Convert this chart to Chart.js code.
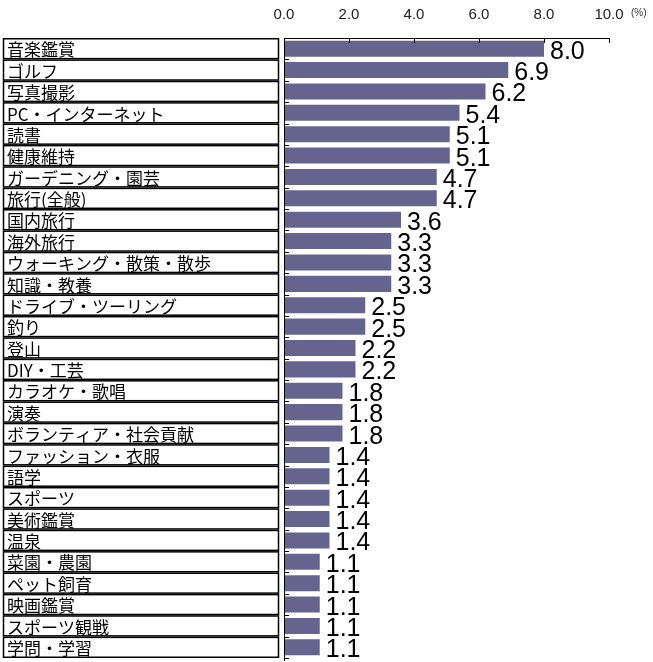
<!DOCTYPE html>
<html lang="ja">
<head>
<meta charset="utf-8">
<title>趣味の割合</title>
<script src="https://cdn.jsdelivr.net/npm/chart.js@4.4.1/dist/chart.umd.min.js"></script>
<style>
    html, body { margin: 0; padding: 0; background: #fff; }
    canvas { display: block; }
</style>
</head>
<body>
<canvas id="hobby-chart" width="653" height="662"></canvas>
<script>
// Data
const categories = [
    '音楽鑑賞', 'ゴルフ', '写真撮影', 'PC・インターネット', '読書', '健康維持',
    'ガーデニング・園芸', '旅行(全般)', '国内旅行', '海外旅行', 'ウォーキング・散策・散歩',
    '知識・教養', 'ドライブ・ツーリング', '釣り', '登山', 'DIY・工芸', 'カラオケ・歌唱',
    '演奏', 'ボランティア・社会貢献', 'ファッション・衣服', '語学', 'スポーツ', '美術鑑賞',
    '温泉', '菜園・農園', 'ペット飼育', '映画鑑賞', 'スポーツ観戦', '学問・学習'
];
const shares = [
    8.0, 6.9, 6.2, 5.4, 5.1, 5.1, 4.7, 4.7, 3.6, 3.3, 3.3, 3.3, 2.5, 2.5, 2.2,
    2.2, 1.8, 1.8, 1.8, 1.4, 1.4, 1.4, 1.4, 1.4, 1.1, 1.1, 1.1, 1.1, 1.1
];
const axisMin = 0;
const axisMax = 10;
const axisStep = 2;
const unitLabel = '(%)';

document.addEventListener('DOMContentLoaded', function() {
    const BAR_COLOR = '#64648f';
    const LABEL_FONT = '17px "Noto Sans CJK JP", sans-serif';
    const VALUE_FONT = '25px "Liberation Sans", Arial, sans-serif';

    /**
     * Draws the boxed category labels, the axis lines with inward ticks,
     * the value labels and the unit text
     */
    const decorPlugin = {
        id: 'decor',
        afterDatasetsDraw(chart) {
            const ctx = chart.ctx;
            const area = chart.chartArea;
            const xs = chart.scales.x;
            const ys = chart.scales.y;
            const rowH = ys.getPixelForValue(1) - ys.getPixelForValue(0);

            ctx.save();

            // category boxes + text
            categories.forEach(function(name, i) {
                const cy = ys.getPixelForValue(i);
                const top = cy - rowH / 2;
                ctx.strokeStyle = '#000';
                ctx.lineWidth = 1.5;
                ctx.strokeRect(3.5, top + 0.75, 275, rowH - 1.5);
                ctx.fillStyle = '#000';
                ctx.font = LABEL_FONT;
                ctx.textAlign = 'left';
                ctx.textBaseline = 'alphabetic';
                ctx.fillText(name, 7, top + rowH - 3);
            });

            // axis lines
            ctx.strokeStyle = '#000';
            ctx.lineWidth = 1;
            ctx.beginPath();
            ctx.moveTo(area.left + 0.5, area.top);
            ctx.lineTo(area.left + 0.5, area.bottom + 3);
            ctx.moveTo(area.left, area.top + 0.5);
            ctx.lineTo(area.right, area.top + 0.5);
            // x ticks pointing down
            xs.ticks.forEach(function(t) {
                const px = Math.round(xs.getPixelForValue(t.value)) + 0.5;
                ctx.moveTo(px, area.top);
                ctx.lineTo(px, area.top + 5);
            });
            // y ticks at category boundaries pointing right
            for (let i = 0; i <= categories.length; i++) {
                const py = Math.round(ys.getPixelForValue(i) - rowH / 2) + 0.5;
                ctx.moveTo(area.left, py);
                ctx.lineTo(area.left + 5, py);
            }
            ctx.stroke();

            // value labels
            ctx.font = VALUE_FONT;
            ctx.fillStyle = '#000';
            ctx.textAlign = 'left';
            ctx.textBaseline = 'alphabetic';
            chart.getDatasetMeta(0).data.forEach(function(bar, i) {
                ctx.fillText(shares[i].toFixed(1), bar.x + 6, bar.y + 10);
            });

            // unit
            ctx.font = '10px "Liberation Sans", Arial, sans-serif';
            ctx.fillStyle = '#333';
            ctx.fillText(unitLabel, 631, 16);

            ctx.restore();
        }
    };

    new Chart(document.getElementById('hobby-chart'), {
        type: 'bar',
        data: {
            labels: categories,
            datasets: [{
                data: shares,
                backgroundColor: BAR_COLOR,
                borderWidth: 0,
                categoryPercentage: 1.0,
                barPercentage: 0.75
            }]
        },
        options: {
            indexAxis: 'y',
            responsive: false,
            maintainAspectRatio: false,
            devicePixelRatio: 1,
            animation: false,
            layout: {
                padding: { left: 0, right: 44, top: 0, bottom: 4 }
            },
            plugins: {
                legend: { display: false },
                tooltip: { enabled: false }
            },
            scales: {
                x: {
                    position: 'top',
                    min: axisMin,
                    max: axisMax,
                    afterFit: function(scale) { scale.height = 38; },
                    border: { display: false },
                    grid: { drawOnChartArea: false, drawTicks: false },
                    ticks: {
                        stepSize: axisStep,
                        padding: 14,
                        color: '#222',
                        font: { family: '"Liberation Sans", Arial, sans-serif', size: 15 },
                        callback: function(v) { return Number(v).toFixed(1); }
                    }
                },
                y: {
                    afterFit: function(scale) { scale.width = 284; },
                    border: { display: false },
                    grid: { display: false },
                    ticks: { display: false }
                }
            }
        },
        plugins: [decorPlugin]
    });
});
</script>
</body>
</html>
